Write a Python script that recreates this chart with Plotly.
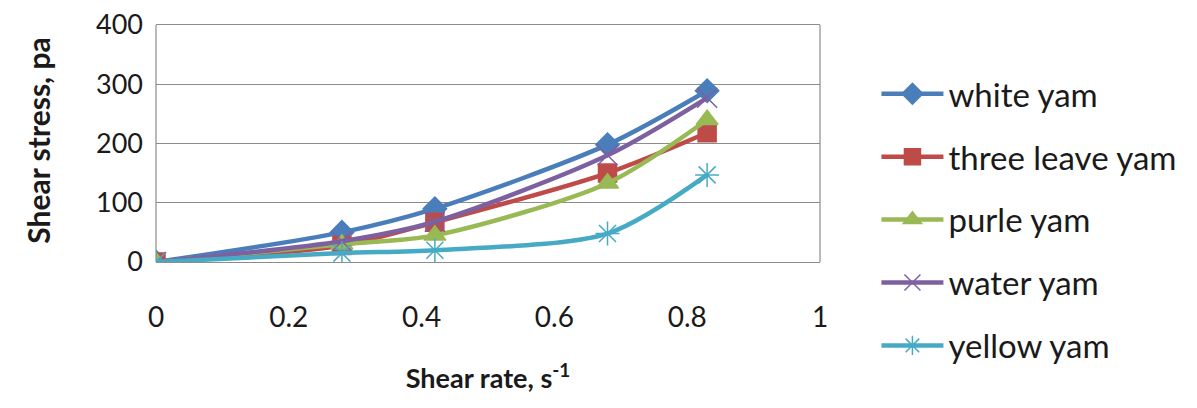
import plotly.graph_objects as go

shear_rate = [0, 0.28, 0.42, 0.68, 0.83]
white_yam = [0, 50, 90, 198, 289]
three_leave_yam = [0, 28, 67, 150, 218]
purle_yam = [0, 30, 45, 133, 240]
water_yam = [0, 35, 68, 180, 277]
yellow_yam = [0, 15, 20, 48, 147]
y_ticks = [0, 100, 200, 300, 400]
x_ticks = [0, 0.2, 0.4, 0.6, 0.8, 1]
x_tick_text = ["0", "0.2", "0.4", "0.6", "0.8", "1"]

series = [
    ("white yam", white_yam, "#4a7ebb", "diamond", 18),
    ("three leave yam", three_leave_yam, "#be4b48", "square", 18),
    ("purle yam", purle_yam, "#98b954", "triangle-up", 19),
    ("water yam", water_yam, "#7d60a0", "x-thin-open", 20),
    ("yellow yam", yellow_yam, "#46aac5", "asterisk-open", 20),
]

fig = go.Figure()
for i, (name, ys, col, sym, sz) in enumerate(series):
    fig.add_trace(go.Scatter(
        x=shear_rate, y=ys, name=name, mode="lines+markers",
        line=dict(color=col, width=4.5, shape="spline", smoothing=0.8),
        marker=dict(symbol=sym, size=sz, color=col, line=dict(color=col, width=1.5)),
        legendgroup=f"g{i}",
    ))

font_family = "Lato, Open Sans, sans-serif"
grid_col = "#8c8c8c"
fig.update_layout(
    width=1189, height=400,
    margin=dict(l=148, r=377, t=11, b=10),
    paper_bgcolor="white", plot_bgcolor="white",
    font=dict(family=font_family, color="#1a1a1a", size=27),
    legend=dict(x=1.085, y=0.47, yanchor="middle", xanchor="left",
                font=dict(size=33, family=font_family, color="#1a1a1a"),
                traceorder="grouped", tracegroupgap=17, itemwidth=62),
    xaxis=dict(range=[0, 1], tickvals=x_ticks, ticktext=x_tick_text,
               showgrid=False, zeroline=False, showline=False, automargin=False,
               ticks="", tickfont=dict(size=28), ticklabelstandoff=36,
               ticklabeloverflow="allow",
               title=dict(text="<b>Shear rate, s<sup>-1</sup></b>", font=dict(size=27), standoff=37)),
    yaxis=dict(range=[0, 410], tickvals=y_ticks, domain=[0.3588, 1],
               showgrid=True, gridcolor=grid_col, gridwidth=1.2,
               zeroline=True, zerolinecolor=grid_col, zerolinewidth=1.2,
               showline=False, automargin=False, ticklabeloverflow="allow",
               tickfont=dict(size=27), ticks="", ticklabelstandoff=12,
               title=dict(text="<b>Shear stress, pa</b>", font=dict(size=30), standoff=36)),
)
for xd in (0, 1):
    fig.add_shape(type="line", xref="x domain", yref="y", x0=xd, x1=xd,
                  y0=y_ticks[0], y1=y_ticks[-1],
                  line=dict(color=grid_col, width=1.2), layer="below")

fig.write_html("out.html")
